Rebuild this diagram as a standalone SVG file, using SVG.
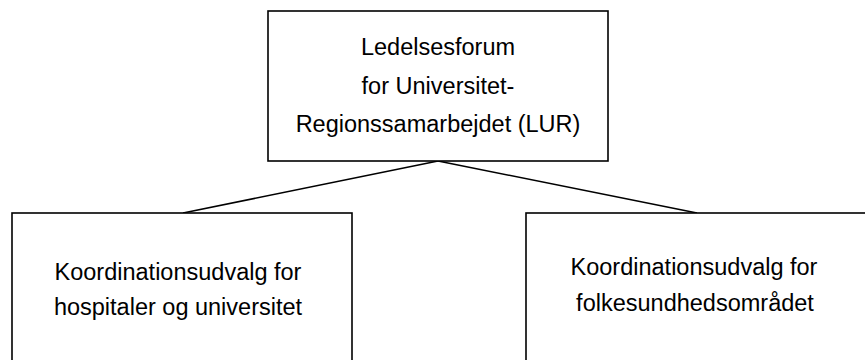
<svg xmlns="http://www.w3.org/2000/svg" width="865" height="360" viewBox="0 0 865 360">
<style>
.box{fill:#fff;stroke:#000;stroke-width:1.6}
.lbl{font-family:"Liberation Sans",Arial,sans-serif;font-size:23.5px;fill:#000;text-anchor:middle}
.conn{stroke:#000;stroke-width:1.6;fill:none}
</style>
<rect width="865" height="360" fill="#fff"/>
<g id="connectors">
<line class="conn" x1="438" y1="161" x2="183" y2="213"/>
<line class="conn" x1="438" y1="161" x2="697" y2="213"/>
</g>
<g id="lur">
<rect class="box" x="268" y="11" width="340" height="150"/>
<text class="lbl" x="438" y="55">Ledelsesforum</text>
<text class="lbl" x="438" y="93.5">for Universitet-</text>
<text class="lbl" x="438" y="132">Regionssamarbejdet (LUR)</text>
</g>
<g id="hospitaler">
<rect class="box" x="12" y="213" width="340" height="160"/>
<text class="lbl" x="178" y="280">Koordinationsudvalg for</text>
<text class="lbl" x="178" y="315">hospitaler og universitet</text>
</g>
<g id="folkesundhed">
<rect class="box" x="526" y="213" width="360" height="160"/>
<text class="lbl" x="694" y="275">Koordinationsudvalg for</text>
<text class="lbl" x="695" y="311">folkesundhedsområdet</text>
</g>
</svg>
